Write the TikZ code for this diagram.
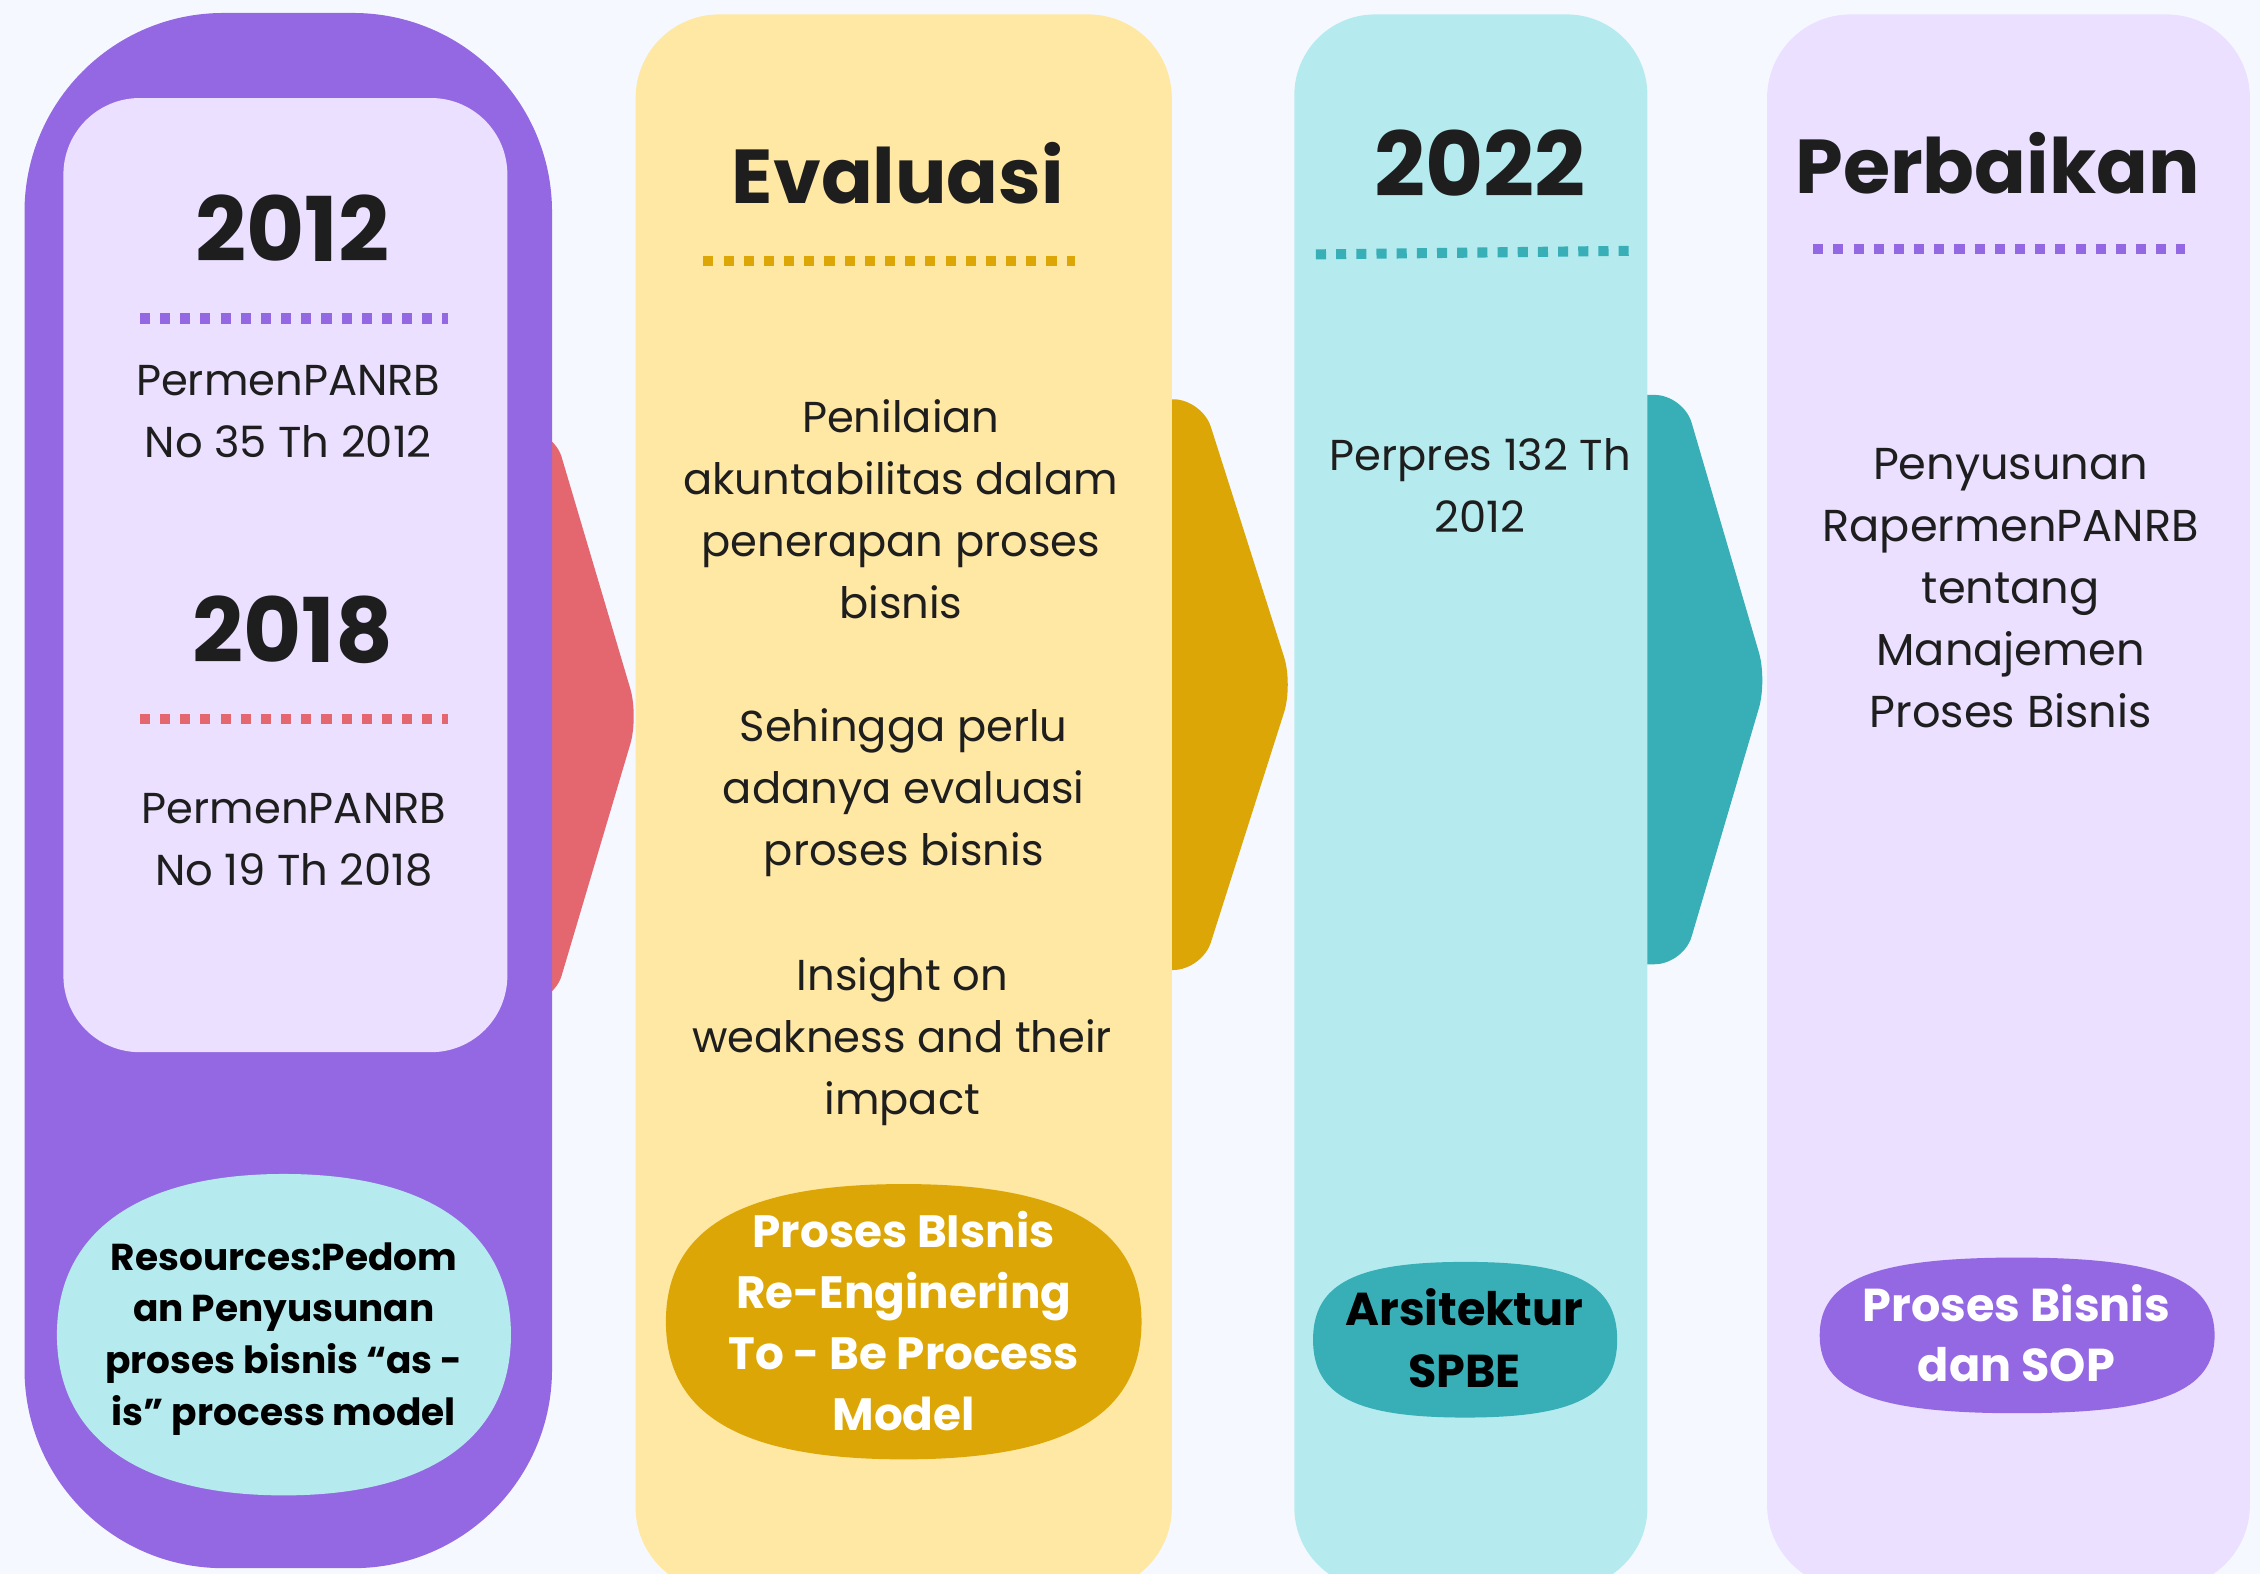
\documentclass[tikz,border=0pt]{standalone}
\usepackage{fontspec}
\setmainfont{Poppins}
\definecolor{bg}{HTML}{F5F9FF}
\definecolor{pur}{HTML}{9468E2}
\definecolor{lav}{HTML}{EBE0FF}
\definecolor{redc}{HTML}{E46770}
\definecolor{yel}{HTML}{FFE8A3}
\definecolor{goldc}{HTML}{DCA706}
\definecolor{cyanl}{HTML}{B5EBEE}
\definecolor{tealc}{HTML}{38AFB7}
\definecolor{ink}{HTML}{1E1E1E}
\newcommand\blobshape[6]{%
  \pgfmathsetmacro\bkx{#6*#4}\pgfmathsetmacro\bky{#6*#5}%
  \fill[#1] ({#2+#4},#3) .. controls ({#2+#4},{#3+\bky}) and ({#2+\bkx},{#3+#5}) .. (#2,{#3+#5})
   .. controls ({#2-\bkx},{#3+#5}) and ({#2-#4},{#3+\bky}) .. ({#2-#4},#3)
   .. controls ({#2-#4},{#3-\bky}) and ({#2-\bkx},{#3-#5}) .. (#2,{#3-#5})
   .. controls ({#2+\bkx},{#3-#5}) and ({#2+#4},{#3-\bky}) .. ({#2+#4},#3) -- cycle;}
\tikzset{
  heading/.style={font=\fontsize{31}{36}\selectfont\bfseries, text=ink, inner sep=0pt},
  wordhead/.style={font=\fontsize{26.5}{32}\selectfont\bfseries, text=ink, inner sep=0pt},
  body/.style={font=\fontsize{15}{21.5}\selectfont, text=ink, align=center, inner sep=0pt},
  pilltext/.style={font=\fontsize{15.7}{21.2}\selectfont\bfseries, align=center, inner sep=0pt},
  dotline/.style={line width=3.5pt, dash pattern=on 3.5pt off 3.5pt},
  chev/.style={rounded corners=10pt},
}
\begin{document}
\begin{tikzpicture}[x=0.5pt,y=-0.5pt]
\useasboundingbox (0,0) rectangle (1568,1092);
\fill[bg] (0,0) rectangle (1568,1092);
\begin{scope}
\clip (0,0) rectangle (1568,1092);
% chevrons
\fill[redc, chev] (300,298) -- (384,298) -- (443,497) -- (384,696) -- (300,696) -- cycle;
\fill[goldc, chev] (760,277) -- (834,277) -- (897,475) -- (834,673) -- (760,673) -- cycle;
\fill[tealc, chev] (1100,274) -- (1168,274) -- (1226,472) -- (1168,669) -- (1100,669) -- cycle;
% columns
\fill[pur, rounded corners=69pt] (17,9) rectangle (383,1088);
\fill[lav, rounded corners=26.5pt] (44,68) rectangle (352,730);
\fill[yel, rounded corners=29pt] (441,10) rectangle (813,1104);
\fill[cyanl, rounded corners=28pt] (898,10) rectangle (1143,1102);
\fill[lav, rounded corners=29pt] (1226,10) rectangle (1561,1102);
% pills
\blobshape{cyanl}{197}{926}{157.5}{111.5}{0.64}
\blobshape{goldc}{627}{917}{165}{95.5}{0.68}
\blobshape{tealc}{1016.5}{929.5}{105.5}{54}{0.72}
\blobshape{pur}{1399.5}{926.5}{137}{54}{0.72}
\end{scope}
% dotted rules
\draw[dotline, pur] (97,221) -- (311,221);
\draw[dotline, redc] (97,499) -- (311,499);
\draw[dotline, goldc] (488,181) -- (746,181);
\draw[dotline, tealc] (913,176.5) -- (1131,174);
\draw[dotline, pur] (1258,173) -- (1516,173);
% column 1
\node[heading] (y2012) at (203,158) {2012};
\node[body] (p2012) at (200,285.5) {PermenPANRB\\No 35 Th 2012};
\node[heading] (y2018) at (203,437) {2018};
\node[body] (p2018) at (204,582.5) {PermenPANRB\\No 19 Th 2018};
\node[pilltext, text=black, font=\fontsize{13}{18}\selectfont\bfseries] (res) at (197,929)
  {Resources:Pedom\\an Penyusunan\\proses bisnis “as -\\is” process model};
% column 2
\node[wordhead] (eval) at (623,120) {Evaluasi};
\node[body] (pen) at (625,353.5) {Penilaian\\akuntabilitas dalam\\penerapan proses\\bisnis};
\node[body] (seh) at (627,550) {Sehingga perlu\\adanya evaluasi\\proses bisnis};
\node[body] (ins) at (626,723) {Insight on\\weakness and their\\impact};
\node[pilltext, text=white] (pbr) at (627,916.5) {Proses BIsnis\\Re-Enginering\\To - Be Process\\Model};
% column 3
\node[heading] (y2022) at (1027,113) {2022};
\node[body] (perp) at (1027,336.5) {Perpres 132 Th\\2012};
\node[pilltext, text=black, font=\fontsize{16}{21.5}\selectfont\bfseries] (ars) at (1016,928.5) {Arsitektur\\SPBE};
% column 4
\node[wordhead] (perb) at (1386,113) {Perbaikan};
\node[body, font=\fontsize{15.5}{21.5}\selectfont] (peny) at (1395,408) {Penyusunan\\RapermenPANRB\\tentang\\Manajemen\\Proses Bisnis};
\node[pilltext, text=white, font=\fontsize{16}{21}\selectfont\bfseries] (sop) at (1399,925) {Proses Bisnis\\dan SOP};
\end{tikzpicture}
\end{document}
